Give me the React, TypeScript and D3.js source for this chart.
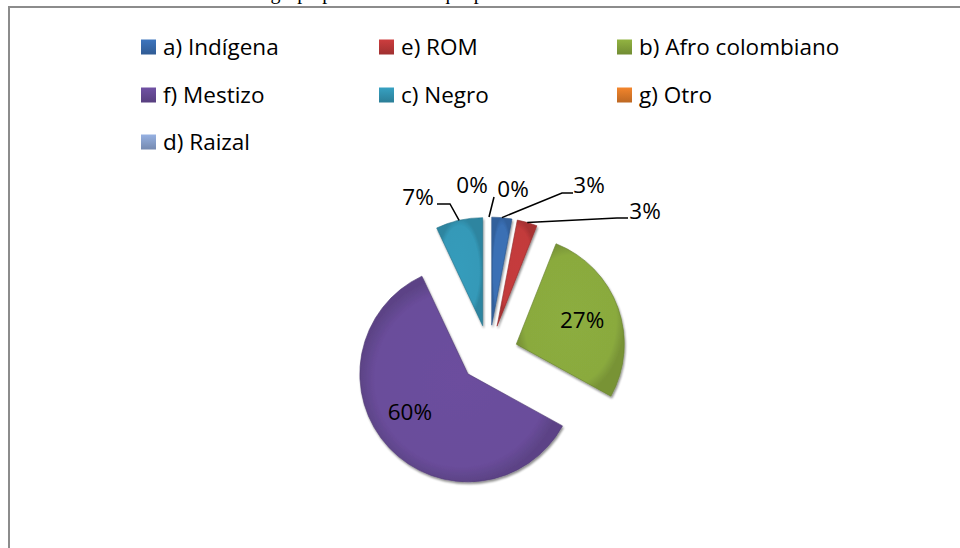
import React from "react";
import * as d3 from "d3";

const categories = ["a) Indígena", "e) ROM", "b) Afro colombiano", "f) Mestizo", "c) Negro", "g) Otro", "d) Raizal"];
const values = [3, 3, 27, 60, 7, 0, 0];
const valueLabels = ["3%", "3%", "27%", "60%", "7%", "0%", "0%"];
const sliceColors = ["#3a6fb4", "#c23a3b", "#8aaa3e", "#6a4d9b", "#3499b8", "#e67e2a", "#8ea8d6"];

const W = 960;
const H = 548;
const FONT = "'Open Sans', 'DejaVu Sans', sans-serif";

// layout
const cx = 489;
const cy = 354;
const R = 108;
const explode = 29;

type LabelLayout =
  | { kind: "inside"; r: number; dx: number; dy: number }
  | { kind: "outside"; dx: number; dy: number; start?: [number, number]; elbow?: [number, number] };

// label positions relative to pie centre
const labelLayout: LabelLayout[] = [
  { kind: "outside", dx: 100, dy: -169, start: [-16, 8], elbow: [-27, 8] },
  { kind: "outside", dx: 156, dy: -143, start: [-17, 7], elbow: [-28, 7] },
  { kind: "inside", r: 70, dx: 0, dy: 0 },
  { kind: "inside", r: 70, dx: -7, dy: -10 },
  { kind: "outside", dx: -71, dy: -157, start: [19, 7], elbow: [32, 7] },
  { kind: "outside", dx: -17, dy: -169 },
  { kind: "outside", dx: 24, dy: -165, start: [-19, 8] },
];

const legendCols = [141, 379, 617];
const legendRows = [47, 95, 142];

export default function App() {
  const pie = d3
    .pie<number>()
    .sort(null)
    .value((d) => d)
    .startAngle(0)
    .endAngle(2 * Math.PI);
  const arcs = pie(values);
  const arcGen = d3.arc<d3.PieArcDatum<number>>().innerRadius(0).outerRadius(R);

  const slices = arcs.map((a, i) => {
    const mid = (a.startAngle + a.endAngle) / 2;
    const ox = cx + Math.sin(mid) * explode;
    const oy = cy - Math.cos(mid) * explode;
    return { a, i, mid, ox, oy };
  });

  return (
    <svg
      width={W}
      height={H}
      style={{ position: "absolute", left: 0, top: 0, background: "#fff" }}
      xmlns="http://www.w3.org/2000/svg"
    >
      <defs>
        {sliceColors.map((c, i) => {
          const col = d3.color(c)!;
          return (
            <linearGradient key={i} id={`lg${i}`} x1="0" y1="0" x2="0" y2="1">
              <stop offset="0%" stopColor={col.brighter(0.15).formatHex()} />
              <stop offset="100%" stopColor={col.darker(0.55).formatHex()} />
            </linearGradient>
          );
        })}
        {sliceColors.map((c, i) => {
          const col = d3.color(c)!;
          return (
            <radialGradient key={"r" + i} id={`rg${i}`} cx="0.5" cy="0.5" r="0.5">
              <stop offset="0%" stopColor={col.brighter(0.05).formatHex()} />
              <stop offset="85%" stopColor={col.formatHex()} />
              <stop offset="100%" stopColor={col.darker(0.4).formatHex()} />
            </radialGradient>
          );
        })}
        <filter id="shadow" x="-20%" y="-20%" width="140%" height="140%">
          <feGaussianBlur in="SourceAlpha" stdDeviation="1.2" />
          <feOffset dx="0.5" dy="1.5" result="b" />
          <feComponentTransfer>
            <feFuncA type="linear" slope="0.45" />
          </feComponentTransfer>
          <feMerge>
            <feMergeNode />
            <feMergeNode in="SourceGraphic" />
          </feMerge>
        </filter>
      </defs>

      {/* caption above the chart, mostly cut off at the top edge */}
      <text x={200} y={-1} fontFamily="'Liberation Serif', 'Times New Roman', serif" fontSize={20} fill="#000">
        Gráfica: grupo poblacional al que pertenece
      </text>

      {/* chart border */}
      <line x1={9} y1={7} x2={9} y2={H} stroke="#8c8c8c" strokeWidth={2} />
      <line x1={8} y1={7} x2={W} y2={7} stroke="#8c8c8c" strokeWidth={2} />

      {/* legend */}
      {categories.map((c, i) => {
        const col = i % 3;
        const row = Math.floor(i / 3);
        const x = legendCols[col];
        const y = legendRows[row];
        return (
          <g key={c}>
            <rect x={x} y={y - 7.5} width={15} height={15} fill={`url(#lg${i})`} />
            <text x={x + 22} y={y} dy="0.35em" fontFamily={FONT} fontSize={22.5} fill="#000">
              {c}
            </text>
          </g>
        );
      })}

      {/* slices */}
      <g filter="url(#shadow)">
        {slices.map(({ a, i, ox, oy }) =>
          a.endAngle - a.startAngle > 0 ? (
            <path
              key={i}
              d={arcGen(a) || ""}
              transform={`translate(${ox},${oy})`}
              fill={`url(#rg${i})`}
              stroke={d3.color(sliceColors[i])!.darker(0.8).formatHex()}
              strokeOpacity={0.6}
              strokeWidth={1}
            />
          ) : null
        )}
      </g>

      {/* data labels + leader lines */}
      {slices.map(({ i, mid, ox, oy }) => {
        const L = labelLayout[i];
        if (L.kind === "inside") {
          const tx = ox + Math.sin(mid) * L.r + L.dx;
          const ty = oy - Math.cos(mid) * L.r + L.dy;
          return (
            <text key={i} x={tx} y={ty} dy="0.35em" textAnchor="middle" fontFamily={FONT} fontSize={22.5} fill="#000">
              {valueLabels[i]}
            </text>
          );
        }
        const tx = cx + L.dx;
        const ty = cy + L.dy;
        const ex = ox + Math.sin(mid) * R;
        const ey = oy - Math.cos(mid) * R;
        const pts: [number, number][] = [];
        if (L.start) {
          pts.push([tx + L.start[0], ty + L.start[1]]);
          if (L.elbow) pts.push([tx + L.elbow[0], ty + L.elbow[1]]);
          pts.push([ex, ey]);
        }
        return (
          <g key={i}>
            {pts.length > 0 && (
              <path d={d3.line()(pts) || ""} fill="none" stroke="#000" strokeWidth={1.5} />
            )}
            <text x={tx} y={ty} dy="0.35em" textAnchor="middle" fontFamily={FONT} fontSize={22.5} fill="#000">
              {valueLabels[i]}
            </text>
          </g>
        );
      })}
    </svg>
  );
}
